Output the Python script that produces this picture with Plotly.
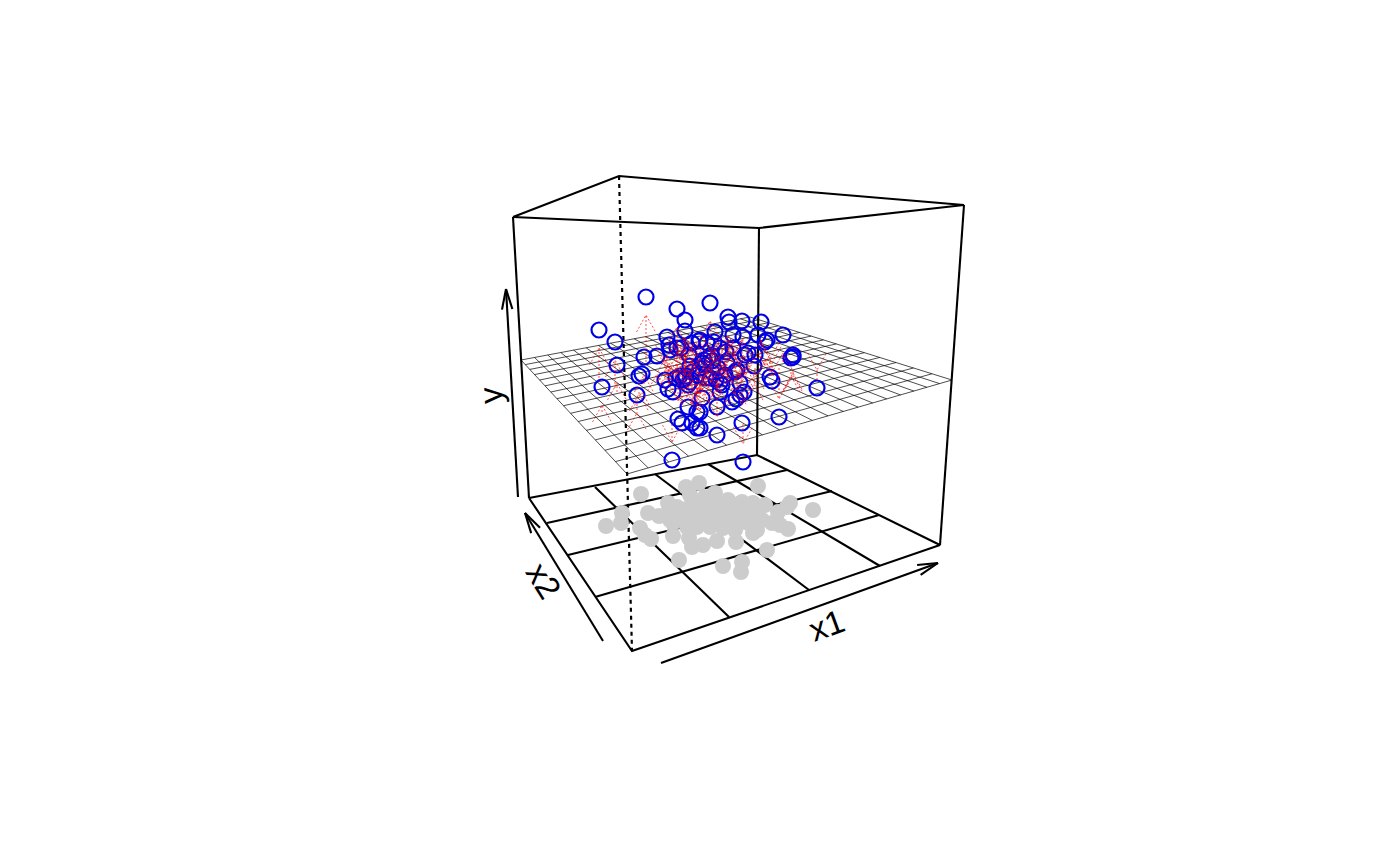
import plotly.graph_objects as go
import numpy as np

blue_x = [646,599,615,617,677,685,685,667,669,670,681,644,657,642,639,665,710,728,729,742,761,783,715,743,733,758,767,765,793,791,793,748,745,755,754,737,727,733,720,707,700,770,772,740,720,710,703,692,699,677,714,712,708,706,690,685,680,688,602,637,668,673,688,702,678,682,692,697,697,672,817,744,740,736,732,717,779,742,717,743,700,700,720,722,683,686,692,700,704,711,718,725,716,706,697,690,676,689,712,735,726]
blue_y = [297,330,342,365,309,320,331,337,345,350,348,357,356,374,376,380,303,317,322,321,322,335,332,337,335,335,340,342,355,358,357,353,355,355,366,370,363,348,348,343,340,377,381,383,383,378,363,343,341,348,342,361,358,365,366,378,376,385,387,395,389,392,407,398,419,423,423,428,412,460,388,392,395,399,402,407,417,423,435,462,412,428,392,385,380,376,372,368,360,355,368,375,380,378,375,382,378,355,372,372,352]
plane_y = [362,378,388,392,366,372,376,380,384,384,372,384,382,392,392,380,352,362,360,362,358,362,360,360,362,358,365,365,370,372,372,366,368,368,372,372,368,366,362,362,360,376,376,376,372,372,368,370,368,374,362,368,368,370,372,374,376,376,412,404,376,374,378,378,380,380,382,380,380,424,380,372,372,374,376,376,368,376,382,424,380,384,376,376,374,372,372,372,372,370,372,372,374,374,374,376,374,372,372,368,364]
gray_x = [699,686,758,641,622,606,621,648,659,640,645,651,668,679,673,689,692,703,717,736,723,742,741,767,753,757,762,772,788,780,813,790,787,778,765,753,742,728,715,705,690,668,673,683,690,697,707,717,723,733,743,745,735,723,710,697,687,680,700,713,677,670,738,730,717,703,690,683,733,740,700,713,728,697,745,750,755]
gray_y = [483,487,486,494,513,526,523,513,516,528,535,539,503,560,536,538,547,545,541,542,566,562,572,550,533,530,520,523,529,525,510,503,507,512,505,503,502,500,493,497,495,513,523,510,520,510,513,507,520,513,510,522,530,528,527,527,527,513,503,503,507,520,523,520,515,520,507,517,505,520,515,518,510,517,512,515,516]

# box corners
top_x = [513,619,964,759,513]
top_y = [217,176,205,228,217]
vert_x0 = [513,759,964]; vert_y0 = [217,228,205]
vert_x1 = [529,757,940]; vert_y1 = [498,455,545]
floor_x = [529,632,940,757,529]
floor_y = [498,651,545,455,498]
rung_x0 = [547,568,595,595,655,708]; rung_y0 = [523,555,597,487,474,464]
rung_x1 = [787,832,879,729,809,880]; rung_y1 = [470,491,515,617,590,566]
dotted_x = [619,632]; dotted_y = [176,651]

# regression surface corners: left, back, right, front
plane_cx = [521,750,952,627]
plane_cy = [360,317,380,474]
n_long, n_short = 20, 15

# axis arrows: tail then tip
arrow_x0 = [518,603,661]; arrow_y0 = [497,641,663]
arrow_x1 = [506,525,938]; arrow_y1 = [289,513,563]
labels = ["y","x2","x1"]
label_x = [490,544,826]; label_y = [396,580,625]
label_angle = [-93,58,-20]

def segs(x0,y0,x1,y1):
    xs,ys=[],[]
    for a,b,c,d in zip(x0,y0,x1,y1):
        xs+=[a,c,None]; ys+=[b,d,None]
    return xs,ys

# homography from the unit square to the plane quad
src=[(0,0),(1,0),(1,1),(0,1)]
A=[];B=[]
for (u,v),X,Y in zip(src,plane_cx,plane_cy):
    A.append([u,v,1,0,0,0,-u*X,-v*X]);B.append(X)
    A.append([0,0,0,u,v,1,-u*Y,-v*Y]);B.append(Y)
h=np.linalg.solve(np.array(A,float),np.array(B,float))
def H(u,v):
    w=h[6]*u+h[7]*v+1
    return (h[0]*u+h[1]*v+h[2])/w,(h[3]*u+h[4]*v+h[5])/w
gx,gy=[],[]
for i in range(n_long+1):
    t=i/n_long
    a=H(t,0);b=H(t,1)
    gx+=[a[0],b[0],None];gy+=[a[1],b[1],None]
for i in range(n_short+1):
    t=i/n_short
    a=H(0,t);b=H(1,t)
    gx+=[a[0],b[0],None];gy+=[a[1],b[1],None]

# residual arrows
rx,ry=[],[]
for x,y,p in zip(blue_x,blue_y,plane_y):
    s=1 if p>y else -1
    tip=y+s*18
    rx+=[x,x,None,x-9.5,x,x+9.5,None]
    ry+=[p,tip,None,tip+s*17,tip,tip+s*17,None]

# axis arrow heads
hx,hy=[],[]
for a,b,c,d in zip(arrow_x0,arrow_y0,arrow_x1,arrow_y1):
    L=np.hypot(c-a,d-b);ux,uy=(c-a)/L,(d-b)/L
    for sgn in (1,-1):
        ca,sa=np.cos(sgn*0.25),np.sin(sgn*0.25)
        vx=-(ux*ca-uy*sa);vy=-(ux*sa+uy*ca)
        hx+=[c+21*vx,c,None];hy+=[d+21*vy,d,None]

blk=dict(color="black",width=2.1)
fig=go.Figure()
def line(x,y,**k):
    fig.add_trace(go.Scatter(x=x,y=y,mode="lines",line=k,hoverinfo="skip",showlegend=False))
rx0,ry0=segs(rung_x0,rung_y0,rung_x1,rung_y1)
line(rx0,ry0,**blk)
line(floor_x,floor_y,**blk)
line(top_x,top_y,**blk)
vx,vy=segs(vert_x0,vert_y0,vert_x1,vert_y1)
line(vx,vy,**blk)
line(dotted_x,dotted_y,color="black",width=2.2,dash="4px,4px")
ax,ay=segs(arrow_x0,arrow_y0,arrow_x1,arrow_y1)
line(ax+hx,ay+hy,**blk)
fig.add_trace(go.Scatter(x=gray_x,y=gray_y,mode="markers",showlegend=False,
    marker=dict(size=16,color="#cccccc",line=dict(width=0))))
line(gx,gy,color="#000000",width=0.7)
fig.add_trace(go.Scatter(x=blue_x,y=blue_y,mode="markers",showlegend=False,
    marker=dict(size=15,color="rgba(0,0,0,0)",line=dict(width=2.2,color="#0000e6"))))
line(rx,ry,color="#ff0000",width=0.7,dash="2px,2px")
for t,x,y,a in zip(labels,label_x,label_y,label_angle):
    fig.add_annotation(x=x,y=y,xref="x",yref="y",text=t,textangle=a,showarrow=False,
        font=dict(family="Liberation Sans",size=33,color="black"))
fig.update_layout(width=1400,height=866,margin=dict(l=0,r=0,t=0,b=0),
    paper_bgcolor="white",plot_bgcolor="white",showlegend=False,
    xaxis=dict(range=[0,1400],visible=False),
    yaxis=dict(range=[866,0],visible=False))
fig.write_html("out.html",post_script="document.body.style.margin='0';",config=dict(displayModeBar=False))
